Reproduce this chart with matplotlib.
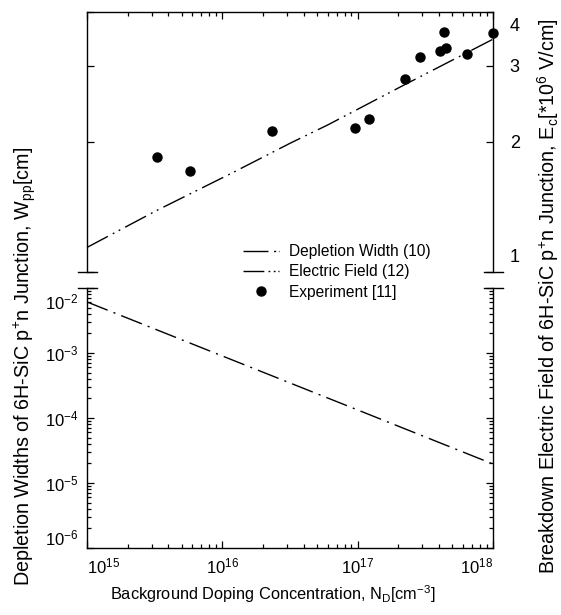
import matplotlib
matplotlib.use("Agg")
import matplotlib.pyplot as plt
import matplotlib.transforms as mtransforms
from matplotlib.lines import Line2D
from matplotlib.ticker import LogLocator, NullFormatter, FixedLocator, FixedFormatter

plt.rcParams['font.family'] = ['Liberation Sans', 'DejaVu Sans']
plt.rcParams['mathtext.fontset'] = 'custom'
plt.rcParams['mathtext.rm'] = 'Liberation Sans'
plt.rcParams['mathtext.it'] = 'Liberation Sans:italic'
plt.rcParams['mathtext.bf'] = 'Liberation Sans:bold'
plt.rcParams['font.size'] = 11
plt.rcParams['lines.scale_dashes'] = False

# breakdown field, eq. (12)  [1e6 V/cm]
field_doping = [1e15, 3.3e15, 1.2e16, 3.2e16, 6.0e16, 2.2e17, 1.0e18]
field_value = [1.14, 1.39, 1.70, 1.99, 2.19, 2.71, 3.46]

# experiment [11]
exp_doping = [3.3e15, 5.8e15, 2.33e16, 9.5e16, 1.21e17, 2.24e17,
              2.89e17, 4.05e17, 4.36e17, 4.49e17, 6.38e17, 1.0e18]
exp_field = [1.85, 1.71, 2.12, 2.16, 2.26, 2.80, 3.15, 3.25, 3.60, 3.30, 3.20, 3.57]

# depletion width, eq. (10)  [cm]
width_doping = [1e15, 1e16, 1e17, 1e18]
width_value = [6.1e-3, 9.0e-4, 1.33e-4, 1.96e-5]

x_ticks = [1e15, 1e16, 1e17, 1e18]
field_ticks = [1, 2, 3, 4]
width_ticks = [1e-6, 1e-5, 1e-4, 1e-3, 1e-2]

DASH_DOT = (0, (16, 4.5, 1.5, 4.5))
DASH_DOT_DOT = (0, (17, 4, 1.3, 3.5, 1.3, 4))

TICK_FS = 12
LABEL_FS = 14.2

W, H = 561, 615
fig = plt.figure(figsize=(W / 100, H / 100), dpi=100)
ax_top = fig.add_axes([87 / W, 1 - 272 / H, 406 / W, 260 / H])
ax_bot = fig.add_axes([87 / W, 1 - 548 / H, 406 / W, 260 / H])

for ax in (ax_top, ax_bot):
    ax.set_xscale('log')
    ax.set_yscale('log')
    ax.set_xlim(1e15, 1e18)
    for s in ax.spines.values():
        s.set_linewidth(1.0)
    ax.xaxis.set_major_locator(FixedLocator(x_ticks))
    ax.xaxis.set_minor_locator(LogLocator(base=10, subs=range(2, 10)))
    ax.xaxis.set_minor_formatter(NullFormatter())
    ax.tick_params(which='both', direction='in', width=0.9, labelsize=TICK_FS)
    ax.tick_params(which='major', length=5)
    ax.tick_params(which='minor', length=3)

# top panel: breakdown field
ax_top.plot(field_doping, field_value, color='black', lw=1.0, linestyle=DASH_DOT_DOT, clip_on=False)
ax_top.plot(exp_doping, exp_field, 'o', color='black', ms=6.5, clip_on=False)
ax_top.set_ylim(1, 4)
ax_top.yaxis.set_major_locator(FixedLocator(field_ticks))
ax_top.yaxis.set_major_formatter(FixedFormatter([str(t) for t in field_ticks]))
ax_top.yaxis.set_minor_locator(FixedLocator([]))
ax_top.spines['bottom'].set_visible(False)
ax_top.tick_params(axis='x', which='both', bottom=False, top=True, labelbottom=False)
ax_top.tick_params(axis='y', left=True, right=True, labelleft=False, labelright=True, pad=12,
                   labelsize=13)
ax_top.set_ylabel('Breakdown Electric Field of 6H-SiC p$^{+}$n Junction, E$_{\\mathrm{c}}$[*10$^{6}$ V/cm]',
                  fontsize=LABEL_FS)
ax_top.yaxis.set_label_position('right')
ax_top.yaxis.set_label_coords(1.103, -0.092)

# bottom panel: depletion width
ax_bot.plot(width_doping, width_value, color='black', lw=1.0, linestyle=DASH_DOT, clip_on=False)
ax_bot.set_ylim(1e-6, 1e-2)
ax_bot.yaxis.set_major_locator(FixedLocator(width_ticks))
ax_bot.yaxis.set_minor_locator(LogLocator(base=10, subs=range(2, 10)))
ax_bot.yaxis.set_minor_formatter(NullFormatter())
ax_bot.spines['top'].set_visible(False)
ax_bot.tick_params(axis='x', which='both', top=False, bottom=True, pad=6)
ax_bot.tick_params(axis='y', which='both', left=True, right=True, labelright=False, pad=6)
ax_bot.set_xlabel('Background Doping Concentration, N$_{\\mathrm{D}}$[cm$^{-3}$]', fontsize=11.8)
ax_bot.xaxis.set_label_coords(0.458, -0.135)
ax_bot.set_ylabel('Depletion Widths of 6H-SiC p$^{+}$n Junction, W$_{\\mathrm{pp}}$[cm]',
                  fontsize=LABEL_FS)
ax_bot.yaxis.set_label_coords(-0.12, 0.70)

# axis break caps
cap = 9.5 / 406
for ax, y in ((ax_top, 0), (ax_bot, 1)):
    for x in (0, 1):
        ax.plot([x - cap, x + cap], [y, y], transform=ax.transAxes, color='black', lw=1.0, clip_on=False)


def nudge(label, dy_px):
    label.set_transform(label.get_transform() +
                        mtransforms.ScaledTranslation(0, dy_px / 100, fig.dpi_scale_trans))


fig.canvas.draw()
xl = ax_bot.get_xticklabels()
xl[0].set_ha('left')
xl[-1].set_ha('right')
yl = ax_bot.get_yticklabels()
yl[0].set_va('bottom')
yl[-1].set_va('top')
nudge(yl[-1], -5)
tl = ax_top.get_yticklabels()
tl[0].set_va('bottom')
tl[-1].set_va('top')
nudge(tl[0], 6)
nudge(tl[-1], -6)

handles = [
    Line2D([], [], color='black', lw=1.0, linestyle=(0, (18, 4, 1.5, 2))),
    Line2D([], [], color='black', lw=1.0, linestyle=(0, (15, 3, 1.3, 2.5, 1.3, 2))),
    Line2D([], [], color='black', marker='o', ms=6.5, linestyle='none'),
]
labels = ['Depletion Width (10)', 'Electric Field (12)', 'Experiment [11]']
fig.legend(handles, labels, loc='upper left', bbox_to_anchor=(243 / W, 1 - 244 / H),
           frameon=False, borderpad=0, borderaxespad=0, handlelength=2.3,
           handletextpad=0.65, labelspacing=0.34, fontsize=11.2)

fig.savefig('out.png', dpi=100)
